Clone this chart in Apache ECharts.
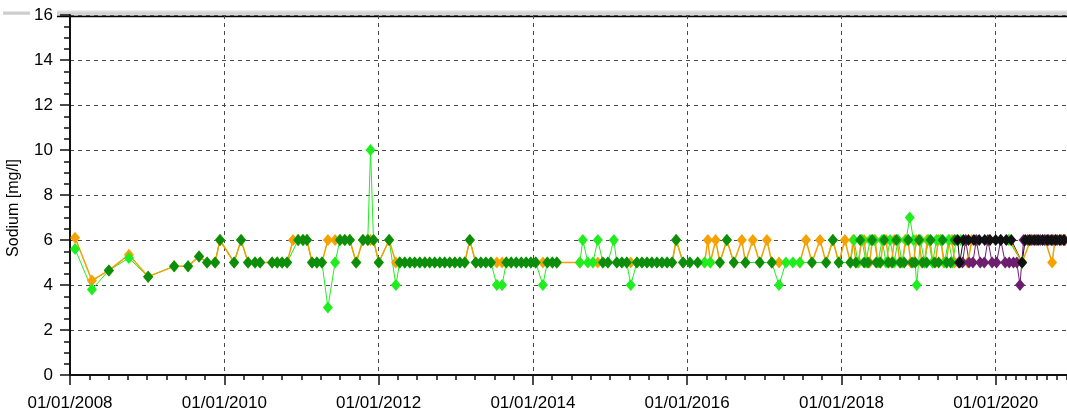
<!DOCTYPE html>
<html><head><meta charset="utf-8">
<script src="https://cdn.jsdelivr.net/npm/echarts@6/dist/echarts.min.js"></script>
<style>html,body{margin:0;padding:0;background:#fff}#c{width:1067px;height:416px}</style>
</head><body><div id="c"></div>
<script>
// ---- DATA ----
const yTicks = [0,2,4,6,8,10,12,14,16];
const xRange = ['2008-01-01','2021-01-20'];

const limeData = [
['2008-01-25',5.6],['2008-04-14',3.8],['2008-07-03',4.65],['2008-10-06',5.2],['2009-01-05',4.37],['2009-05-08',4.83],
['2009-07-13',4.83],['2009-09-03',5.27],['2009-10-11',5],['2009-11-18',5],['2009-12-11',6],['2010-02-16',5],['2010-03-21',6],
['2010-04-23',5],['2010-05-26',5],['2010-06-19',5],['2010-08-15',5],['2010-09-08',5],['2010-10-01',5],['2010-10-25',5],
['2010-12-16',6],['2011-01-08',6],['2011-01-27',6],['2011-02-20',5],['2011-03-15',5],['2011-04-08',5],['2011-05-06',3],
['2011-06-09',5],['2011-07-02',6],['2011-07-25',6],['2011-08-18',6],['2011-09-17',5],['2011-10-19',6],['2011-11-11',6],
['2011-11-24',10],['2011-12-08',6],['2012-01-02',5],['2012-02-20',6],['2012-03-23',4],['2012-04-10',5],['2012-05-04',5],
['2012-05-28',5],['2012-06-20',5],['2012-07-14',5],['2012-08-07',5],['2012-08-30',5],['2012-09-23',5],['2012-10-17',5],
['2012-11-09',5],['2012-12-03',5],['2012-12-27',5],['2013-01-20',5],['2013-02-12',5],['2013-03-08',6],['2013-04-05',5],
['2013-04-29',5],['2013-05-23',5],['2013-06-16',5],['2013-07-14',4],['2013-08-08',4],['2013-08-28',5],['2013-09-20',5],
['2013-10-14',5],['2013-11-07',5],['2013-11-30',5],['2013-12-22',5],['2014-01-14',5],['2014-02-17',4],['2014-03-10',5],
['2014-04-03',5],['2014-04-24',5],['2014-08-11',5],['2014-08-25',6],['2014-09-18',5],['2014-10-12',5],['2014-11-04',6],
['2014-11-28',5],['2014-12-22',5],['2015-01-19',6],['2015-02-02',5],['2015-02-26',5],['2015-03-21',5],['2015-04-09',4],
['2015-05-08',5],['2015-06-01',5],['2015-06-25',5],['2015-07-18',5],['2015-08-11',5],['2015-09-04',5],['2015-09-28',5],
['2015-10-22',5],['2015-11-10',6],['2015-12-13',5],['2016-01-14',5],['2016-02-20',5],['2016-03-24',5],['2016-04-20',5],
['2016-06-04',5],['2016-07-07',6],['2016-08-09',5],['2016-10-03',5],['2016-12-10',5],['2017-02-05',5],['2017-03-11',4],
['2017-04-13',5],['2017-05-16',5],['2017-06-18',5],['2017-08-14',5],['2017-10-20',5],['2017-11-21',6],['2017-12-19',5],
['2018-02-12',5],['2018-03-01',6],['2018-03-20',5],['2018-04-08',6],['2018-04-27',5],['2018-05-16',6],['2018-06-04',6],
['2018-06-23',5],['2018-07-12',6],['2018-07-31',5],['2018-08-19',6],['2018-09-07',5],['2018-09-26',6],['2018-10-15',5],
['2018-11-03',6],['2018-11-20',7],['2018-12-08',6],['2018-12-23',4],['2019-01-10',6],['2019-01-29',5],['2019-02-17',6],
['2019-03-08',5],['2019-03-27',6],['2019-04-15',6],['2019-05-04',5],['2019-05-23',6],['2019-06-11',5],['2019-06-28',6],
['2019-07-20',6],['2020-03-01',6],['2020-05-05',5]
];

const darkGreenData = [
['2008-07-03',4.65],['2009-01-05',4.37],['2009-05-08',4.83],['2009-07-13',4.83],['2009-09-03',5.27],['2009-10-11',5],
['2009-11-18',5],['2009-12-11',6],['2010-02-16',5],['2010-03-21',6],['2010-04-23',5],['2010-05-26',5],['2010-06-19',5],
['2010-08-15',5],['2010-09-08',5],['2010-10-01',5],['2010-10-25',5],['2010-12-16',6],['2011-01-08',6],['2011-01-27',6],
['2011-02-20',5],['2011-03-15',5],['2011-04-08',5],['2011-07-02',6],['2011-07-25',6],['2011-08-18',6],['2011-09-17',5],
['2011-10-19',6],['2011-11-11',6],['2011-12-08',6],['2012-01-02',5],['2012-02-20',6],['2012-04-10',5],['2012-05-04',5],
['2012-05-28',5],['2012-06-20',5],['2012-07-14',5],['2012-08-07',5],['2012-08-30',5],['2012-09-23',5],['2012-10-17',5],
['2012-11-09',5],['2012-12-03',5],['2012-12-27',5],['2013-01-20',5],['2013-02-12',5],['2013-03-08',6],['2013-04-05',5],
['2013-04-29',5],['2013-05-23',5],['2013-06-16',5],['2013-08-28',5],['2013-09-20',5],['2013-10-14',5],['2013-11-07',5],
['2013-11-30',5],['2013-12-22',5],['2014-01-14',5],['2014-03-10',5],['2014-04-03',5],['2014-04-24',5],['2014-11-28',5],
['2014-12-22',5],['2015-02-02',5],['2015-02-26',5],['2015-03-21',5],['2015-05-08',5],['2015-06-01',5],['2015-06-25',5],
['2015-07-18',5],['2015-08-11',5],['2015-09-04',5],['2015-09-28',5],['2015-10-22',5],['2015-11-10',6],['2015-12-13',5],
['2016-01-14',5],['2016-02-20',5],['2016-06-04',5],['2016-07-07',6],['2016-08-09',5],['2016-10-03',5],['2016-12-10',5],
['2017-02-05',5],['2017-08-14',5],['2017-10-20',5],['2017-11-21',6],['2017-12-19',5],['2018-02-12',5],['2018-03-10',5],
['2018-03-30',6],['2018-04-18',5],['2018-05-07',5],['2018-05-26',6],['2018-06-14',5],['2018-07-03',5],['2018-07-22',6],
['2018-08-10',5],['2018-08-29',5],['2018-09-17',6],['2018-10-06',5],['2018-10-25',5],['2018-11-13',6],['2018-12-01',5],
['2018-12-16',5],['2019-01-03',6],['2019-01-20',5],['2019-02-08',5],['2019-02-27',6],['2019-03-18',5],['2019-04-06',5],
['2019-04-25',6],['2019-05-14',5],['2019-06-02',5],['2019-06-20',6],['2020-05-05',5]
];

const orangeData = [
['2008-01-25',6.1],['2008-04-14',4.2],['2008-07-03',4.65],['2008-10-06',5.35],['2009-01-05',4.37],['2009-05-08',4.83],
['2009-07-13',4.83],['2009-09-03',5.27],['2009-10-11',5],['2009-11-18',5],['2009-12-11',6],['2010-02-16',5],['2010-03-21',6],
['2010-04-23',5],['2010-05-26',5],['2010-06-19',5],['2010-08-15',5],['2010-09-08',5],['2010-10-01',5],['2010-10-25',5],
['2010-11-22',6],['2010-12-16',6],['2011-01-08',6],['2011-01-27',6],['2011-02-20',5],['2011-03-15',5],['2011-04-08',5],
['2011-05-06',6],['2011-06-09',6],['2011-07-02',6],['2011-07-25',6],['2011-08-18',6],['2011-09-17',5],['2011-10-19',6],
['2011-11-11',6],['2011-11-24',6],['2011-12-08',6],['2012-01-02',5],['2012-02-20',6],['2012-03-23',5],['2012-04-10',5],
['2012-08-07',5],['2012-12-27',5],['2013-02-12',5],['2013-03-08',6],['2013-04-05',5],['2013-06-16',5],['2013-07-14',5],
['2013-08-08',5],['2013-08-28',5],['2014-01-14',5],['2014-02-17',5],['2014-04-24',5],['2014-08-11',5],['2014-11-04',5],
['2015-04-09',5],['2015-10-22',5],['2015-11-10',6],['2015-12-13',5],['2016-03-24',5],['2016-04-08',6],['2016-04-20',5],
['2016-05-15',6],['2016-06-04',5],['2016-07-07',6],['2016-08-09',5],['2016-09-16',6],['2016-10-03',5],['2016-11-07',6],
['2016-12-10',5],['2017-01-13',6],['2017-02-05',5],['2017-03-11',5],['2017-06-18',5],['2017-07-17',6],['2017-08-14',5],
['2017-09-21',6],['2017-10-20',5],['2017-11-21',6],['2017-12-19',5],['2018-01-17',6],['2018-02-12',5],['2018-02-25',6],
['2018-03-10',5],['2018-03-23',5],['2018-04-05',6],['2018-04-18',6],['2018-05-01',5],['2018-05-14',5],['2018-05-27',6],
['2018-06-09',6],['2018-06-22',5],['2018-07-05',5],['2018-07-18',6],['2018-07-31',6],['2018-08-13',5],['2018-08-26',5],
['2018-09-08',6],['2018-09-21',6],['2018-10-04',5],['2018-10-17',5],['2018-10-30',6],['2018-11-12',6],['2018-11-25',5],
['2018-12-08',5],['2018-12-21',6],['2019-01-03',6],['2019-01-16',5],['2019-01-29',5],['2019-02-11',6],['2019-02-24',6],
['2019-03-09',5],['2019-03-22',5],['2019-04-04',6],['2019-04-17',6],['2019-04-30',5],['2019-05-13',5],['2019-05-26',6],
['2019-06-08',6],['2019-06-21',5],['2019-08-22',5],['2019-09-10',6],['2019-12-04',6],['2020-03-08',6],['2020-05-05',5],
['2020-06-15',6],['2020-07-15',6],['2020-08-22',6],['2020-09-24',5],['2020-10-08',6],['2020-11-10',6],['2020-11-24',6]
];

const purpleData = [
['2019-07-10',5],['2019-07-28',5],['2019-08-12',6],['2019-08-28',5],['2019-09-15',5],['2019-10-01',6],['2019-10-20',5],
['2019-11-08',5],['2019-11-25',6],['2019-12-15',5],['2020-01-05',5],['2020-01-25',6],['2020-02-15',5],['2020-03-05',5],
['2020-03-25',5],['2020-04-10',5],['2020-04-25',4],['2020-05-12',6],['2020-06-01',6],['2020-06-20',6],['2020-07-10',6],
['2020-07-30',6],['2020-08-20',6],['2020-09-08',6],['2020-09-28',6],['2020-10-18',6],['2020-11-05',6],['2020-11-22',6]
];

const blackData = [
['2019-07-05',6],['2019-07-15',5],['2019-08-01',6],['2019-08-25',6],['2019-09-20',6],['2019-10-15',6],['2019-11-10',6],
['2019-12-05',6],['2020-01-01',6],['2020-01-25',6],['2020-02-20',6],['2020-03-15',6],['2020-05-05',5],['2020-05-20',6],
['2020-06-10',6],['2020-07-01',6],['2020-07-20',6],['2020-08-10',6],['2020-09-01',6],['2020-09-20',6],['2020-10-10',6],
['2020-10-30',6],['2020-11-18',6]
];

// ---- CHART ----
const pad = n => (n < 10 ? '0' : '') + n;
const fmt = v => { const d = new Date(v); return pad(d.getDate()) + '/' + pad(d.getMonth() + 1) + '/' + d.getFullYear(); };
const TWO_YEARS = 730.5 * 86400000;
const FONT = 'Liberation Sans, Arial, sans-serif';

function lineSeries(name, data, color, opts) {
  return Object.assign({
    name, type: 'line', data, symbol: 'diamond', symbolSize: [10, 12], showAllSymbol: true,
    itemStyle: { color }, lineStyle: { color, width: 1 }, emphasis: { disabled: true }, animation: false
  }, opts || {});
}

const chart = echarts.init(document.getElementById('c'), null, { renderer: 'canvas' });
chart.setOption({
  animation: false,
  grid: { left: 70, right: -10, top: 15, bottom: 41, outerBoundsMode: 'none', containLabel: false },
  xAxis: [{
    type: 'time', min: xRange[0], max: xRange[1], splitNumber: 6,
    minInterval: TWO_YEARS, maxInterval: TWO_YEARS + 86400000,
    axisLine: { show: true, lineStyle: { color: '#111', width: 2 } },
    axisTick: { show: true, length: 10, lineStyle: { color: '#111', width: 1.5 } },
    minorTick: { show: true, splitNumber: 8, length: 5, lineStyle: { color: '#111', width: 1.5 } },
    splitLine: { show: true, lineStyle: { color: '#4a4a4a', type: [4, 4], width: 1 } },
    axisLabel: { show: true, formatter: fmt, margin: 20, fontSize: 17, color: '#000', fontFamily: FONT, showMinLabel: true, showMaxLabel: false, hideOverlap: false }
  }, {
    type: 'time', position: 'top', min: xRange[0], max: xRange[1], splitNumber: 6,
    minInterval: TWO_YEARS, maxInterval: TWO_YEARS + 86400000,
    axisLine: { show: false }, axisTick: { show: false }, splitLine: { show: false },
    axisLabel: { show: true, formatter: fmt, margin: 11, fontSize: 17, color: '#000', fontFamily: FONT, showMinLabel: true, showMaxLabel: false }
  }],
  yAxis: {
    type: 'value', min: yTicks[0], max: yTicks[yTicks.length - 1], interval: 2,
    name: 'Sodium [mg/l]', nameLocation: 'middle', nameGap: 48,
    nameTextStyle: { fontSize: 16, color: '#000', fontFamily: FONT, padding: [0, 26, 0, 0] },
    axisLine: { show: true, lineStyle: { color: '#111', width: 2 } },
    axisTick: { show: true, length: 10, lineStyle: { color: '#111', width: 1.5 } },
    minorTick: { show: true, splitNumber: 4, length: 6, lineStyle: { color: '#111', width: 1.5 } },
    splitLine: { show: true, lineStyle: { color: '#4a4a4a', type: [4, 4], width: 1 } },
    axisLabel: { margin: 17, fontSize: 17, color: '#000', fontFamily: FONT }
  },
  graphic: [
    { type: 'rect', shape: { x: 3, y: 11, width: 27, height: 4 }, style: { fill: new echarts.graphic.LinearGradient(0, 0, 0, 1, [{ offset: 0, color: '#f2f2f2' }, { offset: 0.5, color: '#c4c4c4' }, { offset: 1, color: '#e4e4e4' }]) } },
    { type: 'rect', shape: { x: 57, y: 10, width: 1010, height: 6 }, style: { fill: new echarts.graphic.LinearGradient(0, 0, 0, 1, [{ offset: 0, color: '#f4f4f4' }, { offset: 0.5, color: '#cfcfcf' }, { offset: 1, color: '#e0e0e0' }]) } },
    { type: 'line', shape: { x1: 57, y1: 16.5, x2: 1067, y2: 16.5 }, style: { stroke: '#000', lineWidth: 1.5 } }
  ],
  series: [
    lineSeries('Orange markers', orangeData, '#F5A200', { lineStyle: { width: 0, opacity: 0 } }),
    lineSeries('Lime', limeData, '#1EEE1E'),
    lineSeries('Dark green', darkGreenData, '#0E8C0E', { lineStyle: { width: 0, opacity: 0 } }),
    lineSeries('Purple', purpleData, '#6E1E6E'),
    lineSeries('Black', blackData, '#111111'),
    lineSeries('Orange line', orangeData, '#F0A000', { showSymbol: false, lineStyle: { color: '#F0A000', width: 1.5 } })
  ]
});
</script></body></html>
